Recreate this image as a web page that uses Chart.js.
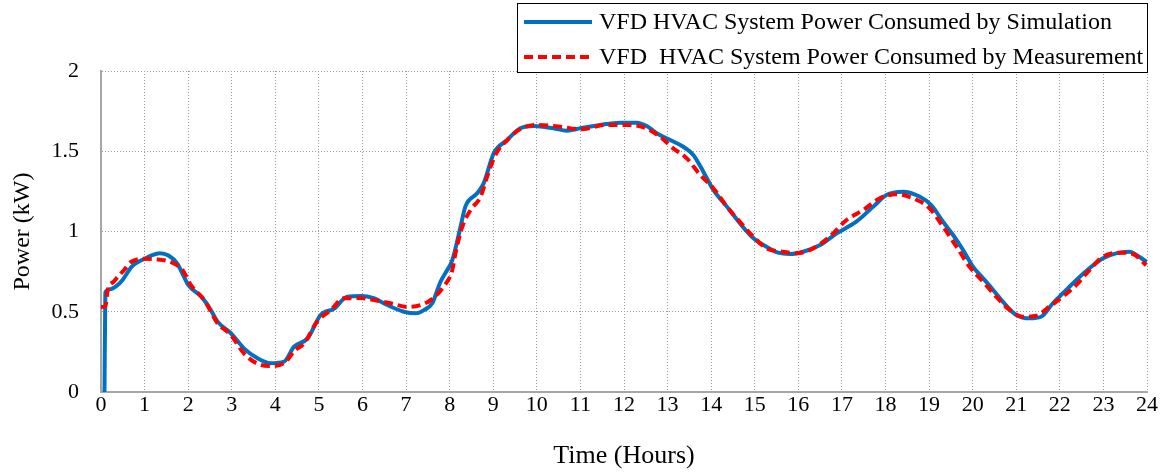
<!DOCTYPE html>
<html>
<head>
<meta charset="utf-8">
<script src="https://cdn.jsdelivr.net/npm/chart.js@4/dist/chart.umd.min.js"></script>
<style>
  html, body { margin: 0; padding: 0; background: #ffffff; }
  #wrap { width: 1164px; height: 472px; }
</style>
</head>
<body>
<div id="wrap"><canvas id="c" width="1164" height="472"></canvas></div>
<script>
// ---- data ----
const seriesLabels = [
  "VFD HVAC System Power Consumed by Simulation",
  "VFD  HVAC System Power Consumed by Measurement"
];
const simHours = [0.08,0.1,0.2,0.35,0.5,0.7,0.85,1.0,1.15,1.35,1.55,1.75,1.9,2.0,2.3,2.5,2.67,2.98,3.28,3.59,3.89,4.2,4.43,4.74,5.04,5.35,5.65,5.96,6.26,6.57,6.95,7.22,7.41,7.6,7.79,7.9,8.06,8.25,8.36,8.63,8.78,9.01,9.32,9.62,9.93,10.38,10.69,11.0,11.45,11.91,12.29,12.52,12.75,13.06,13.36,13.59,13.82,14.05,14.36,14.66,14.97,15.27,15.54,15.81,16.11,16.5,16.88,17.33,17.72,18.02,18.4,18.79,19.05,19.32,19.55,19.78,20.01,20.24,20.47,20.69,21.0,21.31,21.57,21.84,22.07,22.38,22.68,22.99,23.29,23.6,23.79,24.0];
const simPower = [0,0.62,0.64,0.66,0.7,0.78,0.81,0.83,0.85,0.865,0.85,0.80,0.72,0.667,0.594,0.52,0.44,0.366,0.272,0.21,0.179,0.189,0.282,0.334,0.48,0.52,0.594,0.598,0.584,0.542,0.50,0.49,0.51,0.553,0.687,0.74,0.822,1.03,1.155,1.238,1.30,1.487,1.57,1.643,1.657,1.643,1.628,1.643,1.664,1.678,1.678,1.657,1.612,1.57,1.528,1.477,1.373,1.259,1.155,1.051,0.958,0.905,0.868,0.86,0.874,0.916,0.988,1.061,1.155,1.227,1.248,1.217,1.165,1.061,0.978,0.885,0.78,0.708,0.636,0.563,0.48,0.459,0.469,0.553,0.615,0.698,0.771,0.833,0.864,0.874,0.847,0.81];
const measHours = [0,0.1,0.15,0.3,0.53,0.69,0.99,1.3,1.6,1.87,2.06,2.37,2.67,2.98,3.28,3.67,3.89,4.2,4.45,4.66,4.96,5.27,5.57,5.96,6.26,6.64,7.03,7.33,7.56,7.86,8.06,8.13,8.29,8.48,8.71,8.86,9.05,9.32,9.62,10.04,10.54,11.0,11.6,11.99,12.45,12.83,13.13,13.44,13.75,14.05,14.36,14.66,14.97,15.27,15.65,15.96,16.34,16.72,17.1,17.49,17.87,18.25,18.63,19.01,19.32,19.63,19.93,20.24,20.54,20.85,21.15,21.46,21.76,22.07,22.38,22.68,22.99,23.37,23.68,23.98];
const measPower = [0.53,0.535,0.63,0.69,0.76,0.81,0.83,0.826,0.81,0.76,0.667,0.573,0.43,0.355,0.24,0.168,0.162,0.179,0.26,0.303,0.44,0.51,0.584,0.585,0.573,0.553,0.53,0.542,0.573,0.656,0.76,0.86,1.03,1.134,1.217,1.342,1.477,1.57,1.638,1.664,1.653,1.637,1.664,1.664,1.649,1.59,1.518,1.456,1.352,1.27,1.155,1.06,0.967,0.895,0.874,0.864,0.895,0.968,1.07,1.134,1.207,1.232,1.207,1.145,1.03,0.905,0.78,0.687,0.594,0.511,0.469,0.475,0.532,0.594,0.667,0.76,0.843,0.868,0.86,0.79];
const xTitle = "Time (Hours)";
const yTitle = "Power (kW)";

const toPts = (xs, ys) => xs.map((x, i) => ({ x: x, y: ys[i] }));

const SERIF = "'Liberation Serif', 'Times New Roman', serif";
const BLUE = "#0070C0";
const RED = "#FF0000";

const legendBox = {
  id: 'legendBox',
  afterDraw(chart) {
    const ctx = chart.ctx;
    const x0 = 517, y0 = 3, x1 = 1147, y1 = 72;
    ctx.save();
    ctx.fillStyle = '#ffffff';
    ctx.fillRect(x0, y0, x1 - x0, y1 - y0);
    ctx.strokeStyle = '#000000';
    ctx.lineWidth = 1;
    ctx.strokeRect(x0 + 0.5, y0 + 0.5, x1 - x0, y1 - y0);
    const rows = [22, 57];
    chart.data.datasets.forEach((ds, i) => {
      const y = rows[i];
      ctx.beginPath();
      ctx.strokeStyle = ds.borderColor;
      ctx.lineWidth = 4;
      ctx.setLineDash(ds.borderDash || []);
      ctx.moveTo(524, y);
      ctx.lineTo(592, y);
      ctx.stroke();
      ctx.setLineDash([]);
      ctx.fillStyle = '#000000';
      ctx.font = "24px " + SERIF;
      ctx.textBaseline = 'middle';
      ctx.textAlign = 'left';
      ctx.fillText(ds.label, 599, y + 1);
    });
    ctx.restore();
  }
};

new Chart(document.getElementById('c'), {
  type: 'line',
  data: {
    datasets: [
      {
        label: seriesLabels[0],
        data: toPts(simHours, simPower),
        borderColor: BLUE,
        borderWidth: 4,
        pointRadius: 0,
        cubicInterpolationMode: 'monotone',
        fill: false,
        order: 2
      },
      {
        label: seriesLabels[1],
        data: toPts(measHours, measPower),
        borderColor: RED,
        borderWidth: 4,
        borderDash: [9, 5],
        pointRadius: 0,
        cubicInterpolationMode: 'monotone',
        fill: false,
        order: 1
      }
    ]
  },
  options: {
    responsive: false,
    animation: false,
    devicePixelRatio: 1,
    layout: { padding: { left: 0, right: 17, top: 71, bottom: 0 } },
    plugins: {
      legend: { display: false },
      tooltip: { enabled: false }
    },
    scales: {
      x: {
        type: 'linear',
        min: 0, max: 24,
        afterFit(scale) { scale.height = 80; },
        ticks: { stepSize: 1, padding: 0, color: '#000000', font: { family: SERIF, size: 22 } },
        grid: { color: '#9a9a9a', lineWidth: 1, drawTicks: false },
        border: { display: true, color: '#a6a6a6', width: 2, dash: [1, 2] },
        title: { display: true, text: xTitle, color: '#000000', font: { family: SERIF, size: 26 }, padding: { top: 0, bottom: 0 } }
      },
      y: {
        min: 0, max: 2,
        afterFit(scale) { scale.width = 101; },
        ticks: {
          stepSize: 0.5, padding: 22, color: '#000000', font: { family: SERIF, size: 22 },
          callback: (v) => String(Math.round(v * 100) / 100)
        },
        grid: { color: '#9a9a9a', lineWidth: 1, drawTicks: false },
        border: { display: true, color: '#a6a6a6', width: 2, dash: [1, 2] },
        title: { display: true, text: yTitle, color: '#000000', font: { family: SERIF, size: 24 }, padding: { top: 8, bottom: 0 } }
      }
    }
  },
  plugins: [legendBox]
});
</script>
</body>
</html>
